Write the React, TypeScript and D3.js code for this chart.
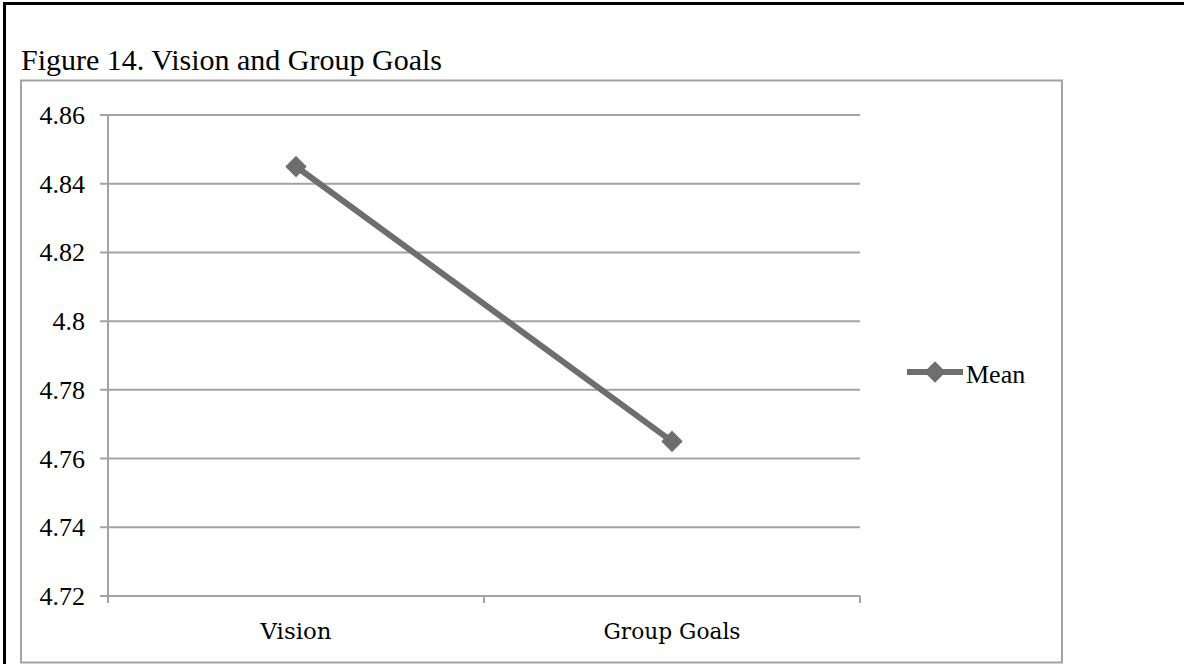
import React, { useEffect, useRef } from "react";
import * as d3 from "d3";

const categories = ["Vision", "Group Goals"];
const meanValues = [4.845, 4.765];
const yTicks = [4.72, 4.74, 4.76, 4.78, 4.8, 4.82, 4.84, 4.86];
const seriesName = "Mean";
const title = "Figure 14. Vision and Group Goals";

export default function App() {
  const ref = useRef<SVGSVGElement>(null);
  useEffect(() => {
    const svg = d3.select(ref.current);
    svg.selectAll("*").remove();
    const W = 1184, H = 664;
    const left = 108, right = 860, top = 115, bottom = 596;
    const serif = "'Liberation Serif', 'Times New Roman', serif";
    const grid = "#a3a3a3";
    const lineColor = "#6e6e6e";

    svg.append("rect").attr("width", W).attr("height", H).attr("fill", "#fff");
    // outer black frame (top & left visible)
    svg.append("rect").attr("x", 4.5).attr("y", 3.5).attr("width", W + 10).attr("height", H + 10)
      .attr("fill", "none").attr("stroke", "#000").attr("stroke-width", 3);

    svg.append("text").attr("x", 21).attr("y", 70).attr("font-family", serif).attr("font-size", 30)
      .attr("fill", "#000").text(title);

    // inner chart box
    svg.append("rect").attr("x", 21).attr("y", 80.5).attr("width", 1041).attr("height", 582)
      .attr("fill", "#fff").attr("stroke", grid).attr("stroke-width", 2);

    const y = d3.scaleLinear().domain([4.72, 4.86]).range([bottom, top]);
    const x = d3.scaleBand<string>().domain(categories).range([left, right]);

    // gridlines
    svg.append("g").selectAll("line").data(yTicks).join("line")
      .attr("x1", left - 8).attr("x2", right)
      .attr("y1", d => y(d)).attr("y2", d => y(d))
      .attr("stroke", grid).attr("stroke-width", 2);
    // y axis line
    svg.append("line").attr("x1", left).attr("x2", left).attr("y1", top).attr("y2", bottom + 7)
      .attr("stroke", grid).attr("stroke-width", 2);
    // x ticks
    const xt = [left, ...categories.map(c => (x(c) as number) + x.bandwidth())];
    svg.append("g").selectAll("line").data(xt).join("line")
      .attr("x1", d => d).attr("x2", d => d).attr("y1", bottom).attr("y2", bottom + 7)
      .attr("stroke", grid).attr("stroke-width", 2);

    // y labels
    svg.append("g").selectAll("text").data(yTicks).join("text")
      .attr("x", 85).attr("y", d => y(d) + 9).attr("text-anchor", "end")
      .attr("font-family", serif).attr("font-size", 26).attr("fill", "#000")
      .text(d => d3.format("")(+d.toFixed(2)));

    // x labels
    svg.append("g").selectAll("text").data(categories).join("text")
      .attr("x", d => (x(d) as number) + x.bandwidth() / 2).attr("y", 639).attr("text-anchor", "middle")
      .attr("font-family", "'DejaVu Serif', serif").attr("font-size", 22)
      .attr("textLength", d => d === "Vision" ? 71 : 137).attr("lengthAdjust", "spacingAndGlyphs")
      .attr("fill", "#000").text(d => d);

    const pts = categories.map((c, i) => [(x(c) as number) + x.bandwidth() / 2, y(meanValues[i])] as [number, number]);
    svg.append("path").attr("d", d3.line()(pts)).attr("fill", "none")
      .attr("stroke", lineColor).attr("stroke-width", 6);
    const diamond = d3.symbol().type(d3.symbolSquare).size(200);
    svg.append("g").selectAll("path").data(pts).join("path")
      .attr("transform", d => `translate(${d[0]},${d[1]}) rotate(45)`)
      .attr("d", diamond()).attr("fill", lineColor).attr("stroke", lineColor)
      .attr("stroke-width", 1).attr("stroke-linejoin", "round");

    // legend
    const ly = 372;
    svg.append("line").attr("x1", 907).attr("x2", 963).attr("y1", ly).attr("y2", ly)
      .attr("stroke", lineColor).attr("stroke-width", 6);
    svg.append("path").attr("transform", `translate(935,${ly}) rotate(45)`).attr("d", diamond())
      .attr("fill", lineColor).attr("stroke", lineColor).attr("stroke-width", 1);
    svg.append("text").attr("x", 966).attr("y", 383).attr("font-family", serif).attr("font-size", 26)
      .attr("fill", "#000").text(seriesName);
  }, []);
  return (
    <svg ref={ref} width={1184} height={664}
      style={{ position: "absolute", left: 0, top: 0, display: "block" }} />
  );
}
